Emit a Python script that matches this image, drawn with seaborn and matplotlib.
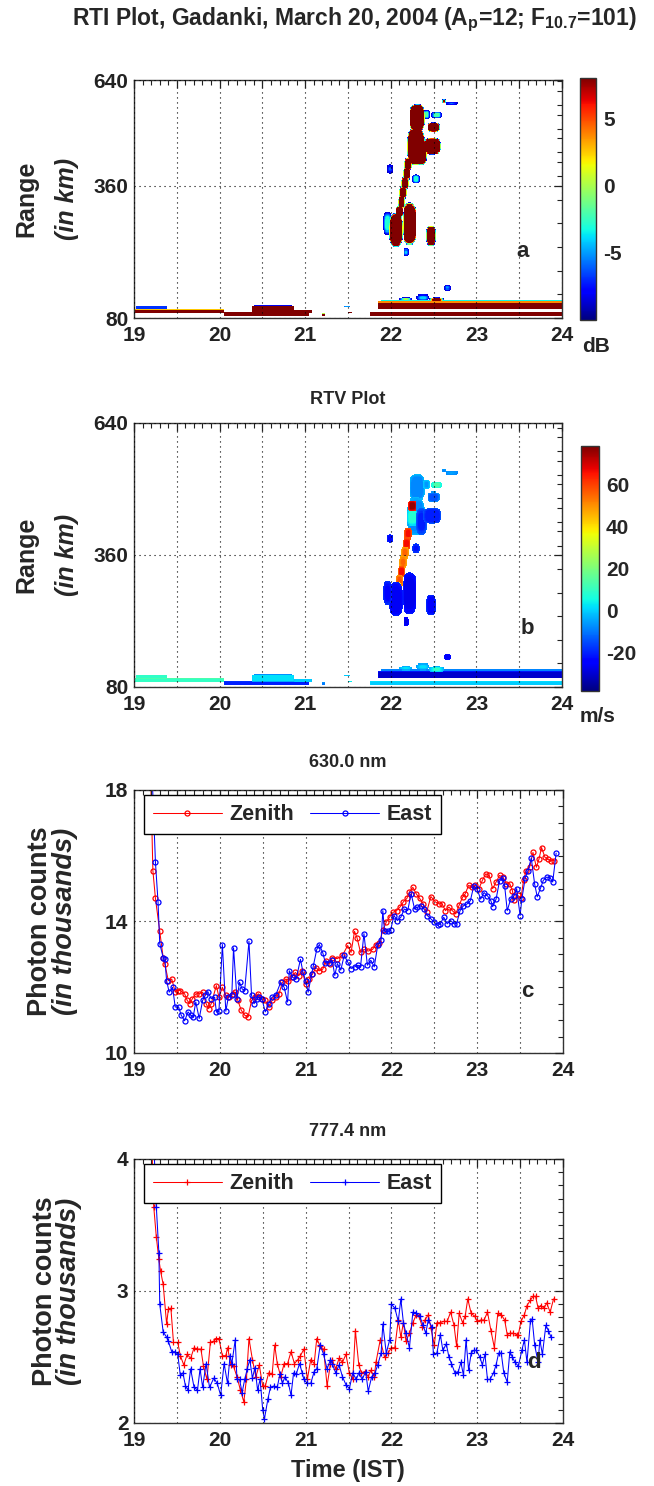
import numpy as np
import matplotlib
matplotlib.use("Agg")
import matplotlib.pyplot as plt
import seaborn as sns
from matplotlib.ticker import FixedLocator, MultipleLocator, FuncFormatter

sns.set_theme(style="white")
plt.rcParams["font.family"] = ["Liberation Sans", "DejaVu Sans"]
plt.rcParams["font.weight"] = "bold"
plt.rcParams["mathtext.fontset"] = "custom"
plt.rcParams["mathtext.bf"] = "Liberation Sans:bold"
plt.rcParams["mathtext.rm"] = "Liberation Sans:bold"
plt.rcParams["mathtext.default"] = "bf"
plt.rcParams["axes.unicode_minus"] = False

# ---------------------------------------------------------------- radar echoes
# each echo: (t_start, t_end, range_start, range_end, peak SNR dB,
#             core velocity m/s, edge velocity m/s, shape)
plume_echoes = [
    # upper cluster
    (22.22, 22.40, 474, 532, 40, -8, -2, "blob"),
    (22.19, 22.40, 402, 482, 40, -8, -2, "blob"),
    (22.19, 22.31, 422, 460, 40, 8, 0, "blob"),
    (22.30, 22.42, 402, 460, 40, -20, -12, "blob"),
    (22.20, 22.30, 452, 476, 40, 76, 62, "blob"),
    (22.38, 22.59, 426, 460, 38, -20, -14, "blob"),
    (22.43, 22.57, 472, 494, 30, -14, -6, "blob"),
    (22.38, 22.46, 500, 520, -2, -6, 0, "blob"),
    (22.47, 22.60, 502, 516, -2, 14, 4, "blob"),
    # tilted stalk
    (22.160, 22.250, 392, 418, 40, 66, 56, "blob"),
    (22.140, 22.230, 372, 398, 40, 66, 56, "blob"),
    (22.120, 22.210, 352, 378, 40, 55, 46, "blob"),
    (22.100, 22.190, 332, 358, 40, 55, 46, "blob"),
    (22.080, 22.170, 312, 338, 40, 66, 54, "blob"),
    (22.055, 22.145, 292, 318, 40, 58, 48, "blob"),
    (22.035, 22.125, 277, 303, 40, 42, 34, "blob"),
    (22.025, 22.105, 264, 286, 30, 25, 10, "blob"),
    # bottom-side echoes
    (21.98, 22.14, 230, 302, 40, -26, -20, "blob"),
    (21.91, 22.01, 255, 305, -3, -24, -18, "blob"),
    (22.14, 22.30, 234, 324, 40, -27, -20, "blob"),
    (22.41, 22.53, 232, 276, 32, -25, -18, "blob"),
    (22.15, 22.21, 210, 228, -4, -28, -24, "blob"),
    (21.96, 22.02, 386, 404, -6, -25, -20, "blob"),
    (22.25, 22.34, 364, 384, -3, -22, -16, "blob"),
    (22.60, 22.64, 534, 542, 20, -10, -6, "blob"),
    (22.64, 22.78, 530, 538, -5, -4, -8, "blob"),
]

layer_echoes = [
    (19.00, 20.05, 90, 99, 40, 10, 14, "box"),
    (19.02, 19.38, 101, 104, 0, 14, 8, "box"),
    (20.05, 21.05, 85, 92, 40, -20, -14, "box"),
    (20.38, 20.87, 91, 106, 45, 2, -6, "box"),
    (20.40, 20.85, 106, 108, -6, -4, -8, "box"),
    (20.87, 21.08, 90, 98, 25, 0, -6, "box"),
    (21.20, 21.23, 85, 89, 30, -10, -6, "box"),
    (21.45, 21.52, 102, 106, -5, 0, -4, "box"),
    (21.50, 21.55, 89, 93, 30, 4, 0, "box"),
    (21.85, 24.00, 99, 114, 45, -30, -18, "box"),
    (21.88, 24.00, 114, 117, -1, -12, 0, "box"),
    (22.10, 22.25, 116, 124, 5, 6, -4, "blob"),
    (22.30, 22.45, 116, 130, -4, 2, -6, "blob"),
    (22.45, 22.62, 112, 124, 20, 10, -4, "blob"),
    (21.76, 24.00, 84, 92, 30, 0, 6, "box"),
    (22.62, 22.70, 138, 150, -5, -26, -22, "blob"),
]

# ---------------------------------------------------------------- photometer data
t630_zen = [19.19, 19.22, 19.25, 19.30, 19.34, 19.36, 19.40, 19.44, 19.48, 19.51,
            19.54, 19.59, 19.62, 19.65, 19.68, 19.72, 19.76, 19.80, 19.84, 19.87,
            19.90, 19.96, 19.99, 20.03, 20.07, 20.11, 20.15, 20.18, 20.21, 20.25,
            20.29, 20.33, 20.37, 20.41, 20.45, 20.49, 20.53, 20.57, 20.61, 20.65,
            20.69, 20.73, 20.77, 20.80, 20.84, 20.88, 20.92, 20.96, 21.00, 21.04,
            21.08, 21.12, 21.16, 21.20, 21.24, 21.28, 21.31, 21.37, 21.43, 21.49,
            21.53, 21.57, 21.60, 21.64, 21.68, 21.73, 21.78, 21.82, 21.86, 21.90,
            21.94, 21.98, 22.02, 22.06, 22.10, 22.14, 22.18, 22.21, 22.25, 22.29,
            22.33, 22.37, 22.41, 22.46, 22.51, 22.55, 22.59, 22.63, 22.67, 22.71,
            22.75, 22.79, 22.83, 22.86, 22.90, 22.94, 22.98, 23.02, 23.06, 23.10,
            23.14, 23.18, 23.22, 23.26, 23.30, 23.34, 23.38, 23.41, 23.43, 23.47,
            23.51, 23.54, 23.57, 23.61, 23.65, 23.69, 23.72, 23.75, 23.79, 23.82,
            23.86, 23.90]
v630_zen = [18.9, 15.55, 14.7, 13.7, 12.9, 12.7, 12.2, 12.25, 11.86, 11.9,
            11.9, 11.8, 11.6, 11.5, 11.65, 11.8, 11.8, 11.85, 11.5, 11.35,
            11.5, 12.05, 11.7, 12.0, 11.75, 11.7, 11.8, 11.85, 11.6, 11.3,
            11.15, 11.1, 11.6, 11.7, 11.8, 11.65, 11.6, 11.4, 11.6, 11.7,
            11.8, 12.15, 12.25, 12.2, 12.3, 12.45, 12.35, 12.5, 12.1, 12.25,
            12.4, 12.6, 12.5, 12.55, 12.8, 12.7, 12.9, 12.87, 12.97, 13.27,
            13.06, 13.7, 13.5, 13.06, 13.15, 13.1, 13.15, 13.3, 13.35, 13.73,
            13.98, 14.14, 14.28, 14.33, 14.44, 14.6, 14.7, 14.9, 15.04, 14.84,
            14.7, 14.54, 14.28, 14.76, 14.6, 14.54, 14.54, 14.33, 14.44, 14.33,
            14.23, 14.5, 14.74, 14.84, 15.1, 15.04, 15.1, 15.0, 15.25, 15.45,
            15.4, 15.0, 15.2, 15.4, 15.35, 15.15, 15.15, 14.94, 14.64, 14.8,
            14.7, 15.25, 15.55, 15.65, 16.1, 15.65, 15.9, 16.25, 15.95, 15.9,
            15.85, 15.85]

t630_east = [19.20, 19.25, 19.28, 19.30, 19.34, 19.36, 19.38, 19.41, 19.45, 19.48,
             19.52, 19.55, 19.59, 19.63, 19.66, 19.69, 19.72, 19.76, 19.80, 19.83,
             19.86, 19.90, 19.94, 19.96, 19.99, 20.03, 20.07, 20.10, 20.14, 20.16,
             20.20, 20.23, 20.26, 20.29, 20.34, 20.37, 20.40, 20.43, 20.46, 20.49,
             20.53, 20.57, 20.61, 20.65, 20.71, 20.75, 20.79, 20.81, 20.85, 20.89,
             20.94, 20.97, 21.00, 21.03, 21.07, 21.09, 21.13, 21.16, 21.20, 21.23,
             21.27, 21.31, 21.34, 21.37, 21.41, 21.45, 21.49, 21.53, 21.57, 21.61,
             21.64, 21.68, 21.72, 21.76, 21.80, 21.84, 21.88, 21.90, 21.92, 21.96,
             21.99, 22.03, 22.07, 22.11, 22.15, 22.19, 22.23, 22.27, 22.30, 22.34,
             22.38, 22.42, 22.46, 22.50, 22.54, 22.57, 22.61, 22.65, 22.69, 22.73,
             22.76, 22.80, 22.84, 22.88, 22.92, 22.96, 23.00, 23.04, 23.08, 23.12,
             23.16, 23.18, 23.22, 23.26, 23.30, 23.32, 23.35, 23.39, 23.43, 23.46,
             23.50, 23.52, 23.56, 23.59, 23.63, 23.67, 23.70, 23.74, 23.77, 23.81,
             23.85, 23.88, 23.92]
v630_east = [19.2, 15.8, 14.6, 13.33, 12.9, 12.85, 12.2, 11.85, 12.0, 11.4,
             11.4, 11.15, 10.98, 11.25, 11.15, 11.1, 11.55, 11.05, 11.6, 11.75,
             11.87, 11.65, 11.7, 11.25, 11.27, 13.3, 11.27, 11.7, 11.75, 13.2,
             11.65, 12.15, 11.95, 11.9, 13.4, 11.75, 11.5, 11.65, 11.7, 11.65,
             11.25, 11.5, 11.7, 11.75, 12.15, 12.0, 11.55, 12.5, 12.3, 12.25,
             12.85, 12.45, 12.2, 11.85, 12.4, 12.65, 13.15, 13.3, 13.05, 12.75,
             12.75, 12.82, 12.36, 12.72, 12.52, 12.97, 12.77, 12.57, 12.62, 12.67,
             12.62, 13.63, 12.67, 12.82, 12.62, 13.27, 13.43, 14.33, 13.7, 13.7,
             13.73, 14.18, 14.03, 14.13, 14.38, 14.33, 14.85, 14.38, 14.43, 14.48,
             14.38, 14.18, 14.08, 13.98, 13.88, 13.93, 14.13, 13.93, 14.03, 13.93,
             13.93, 14.33, 14.48, 14.53, 14.63, 15.08, 14.98, 14.68, 14.88, 14.78,
             14.63, 14.45, 14.68, 15.23, 15.33, 15.08, 14.33, 14.68, 14.78, 15.0,
             14.18, 14.68, 15.33, 15.53, 15.93, 15.13, 14.75, 15.03, 15.25, 15.35,
             15.33, 15.2, 16.08]

t777_zen = [19.20, 19.23, 19.26, 19.29, 19.31, 19.34, 19.38, 19.40, 19.43, 19.46,
            19.51, 19.54, 19.58, 19.62, 19.66, 19.70, 19.74, 19.78, 19.81, 19.85,
            19.89, 19.93, 19.95, 19.99, 20.03, 20.07, 20.09, 20.13, 20.16, 20.20,
            20.24, 20.28, 20.31, 20.34, 20.38, 20.42, 20.46, 20.50, 20.53, 20.57,
            20.61, 20.64, 20.67, 20.71, 20.75, 20.79, 20.83, 20.87, 20.91, 20.94,
            20.98, 21.02, 21.06, 21.10, 21.13, 21.17, 21.21, 21.25, 21.29, 21.31,
            21.35, 21.39, 21.43, 21.47, 21.51, 21.55, 21.58, 21.62, 21.65, 21.69,
            21.73, 21.76, 21.80, 21.82, 21.87, 21.92, 21.96, 22.00, 22.04, 22.08,
            22.11, 22.14, 22.17, 22.21, 22.25, 22.29, 22.32, 22.36, 22.39, 22.43,
            22.46, 22.50, 22.53, 22.57, 22.61, 22.65, 22.69, 22.73, 22.76, 22.79,
            22.83, 22.86, 22.89, 22.93, 22.97, 23.00, 23.04, 23.08, 23.12, 23.16,
            23.20, 23.24, 23.28, 23.32, 23.35, 23.38, 23.42, 23.46, 23.48, 23.51,
            23.55, 23.58, 23.62, 23.65, 23.68, 23.71, 23.74, 23.78, 23.81, 23.85,
            23.89]
v777_zen = [4.3, 3.64, 3.41, 3.24, 3.15, 3.05, 2.75, 2.86, 2.87, 2.61,
            2.61, 2.51, 2.44, 2.52, 2.49, 2.57, 2.56, 2.56, 2.43, 2.33,
            2.61, 2.62, 2.64, 2.64, 2.51, 2.51, 2.57, 2.44, 2.43, 2.35,
            2.25, 2.16, 2.33, 2.64, 2.48, 2.35, 2.44, 2.28, 2.28, 2.38,
            2.37, 2.59, 2.45, 2.35, 2.45, 2.45, 2.54, 2.45, 2.48, 2.51,
            2.56, 2.33, 2.48, 2.45, 2.64, 2.58, 2.56, 2.28, 2.45, 2.48,
            2.41, 2.49, 2.46, 2.52, 2.38, 2.33, 2.70, 2.44, 2.38, 2.39,
            2.35, 2.40, 2.35, 2.46, 2.63, 2.50, 2.53, 2.57, 2.57, 2.78,
            2.65, 2.76, 2.62, 2.68, 2.76, 2.82, 2.81, 2.73, 2.78, 2.82,
            2.72, 2.59, 2.76, 2.76, 2.77, 2.77, 2.84, 2.74, 2.58, 2.83,
            2.76, 2.81, 2.94, 2.83, 2.81, 2.77, 2.78, 2.78, 2.84, 2.70,
            2.57, 2.83, 2.82, 2.78, 2.67, 2.68, 2.68, 2.67, 2.67, 2.77,
            2.82, 2.89, 2.93, 2.96, 2.96, 2.87, 2.89, 2.87, 2.91, 2.84,
            2.94]

t777_east = [19.22, 19.26, 19.29, 19.30, 19.34, 19.38, 19.40, 19.44, 19.48, 19.51,
             19.54, 19.57, 19.60, 19.63, 19.66, 19.70, 19.74, 19.77, 19.80, 19.84,
             19.88, 19.93, 19.97, 20.01, 20.05, 20.09, 20.12, 20.14, 20.18, 20.20,
             20.23, 20.26, 20.29, 20.32, 20.35, 20.38, 20.41, 20.44, 20.47, 20.50,
             20.52, 20.56, 20.59, 20.63, 20.67, 20.70, 20.73, 20.76, 20.80, 20.83,
             20.86, 20.89, 20.93, 20.96, 20.98, 21.02, 21.06, 21.10, 21.13, 21.17,
             21.21, 21.25, 21.29, 21.31, 21.35, 21.39, 21.43, 21.47, 21.51, 21.55,
             21.59, 21.62, 21.66, 21.70, 21.73, 21.77, 21.81, 21.84, 21.88, 21.90,
             21.94, 21.98, 22.00, 22.04, 22.08, 22.11, 22.14, 22.17, 22.21, 22.25,
             22.29, 22.33, 22.37, 22.40, 22.43, 22.47, 22.49, 22.53, 22.57, 22.60,
             22.64, 22.67, 22.70, 22.74, 22.78, 22.81, 22.84, 22.87, 22.90, 22.93,
             22.96, 22.99, 23.03, 23.06, 23.09, 23.12, 23.15, 23.19, 23.22, 23.25,
             23.28, 23.31, 23.35, 23.38, 23.41, 23.44, 23.48, 23.52, 23.55, 23.58,
             23.62, 23.64, 23.67, 23.71, 23.73, 23.76, 23.80, 23.83, 23.86]
v777_east = [4.3, 3.64, 3.29, 2.90, 2.69, 2.65, 2.62, 2.54, 2.54, 2.52,
             2.36, 2.38, 2.28, 2.25, 2.41, 2.27, 2.25, 2.41, 2.27, 2.45,
             2.27, 2.34, 2.30, 2.21, 2.45, 2.30, 2.51, 2.45, 2.63, 2.33,
             2.33, 2.23, 2.33, 2.41, 2.48, 2.34, 2.42, 2.25, 2.33, 2.10,
             2.03, 2.18, 2.27, 2.28, 2.27, 2.37, 2.30, 2.35, 2.30, 2.21,
             2.38, 2.37, 2.45, 2.38, 2.33, 2.30, 2.30, 2.39, 2.41, 2.59,
             2.52, 2.41, 2.48, 2.45, 2.38, 2.44, 2.35, 2.29, 2.26, 2.38,
             2.33, 2.38, 2.33, 2.39, 2.24, 2.35, 2.38, 2.44, 2.53, 2.75,
             2.53, 2.63, 2.90, 2.87, 2.77, 2.94, 2.76, 2.68, 2.57, 2.84,
             2.83, 2.81, 2.74, 2.68, 2.78, 2.73, 2.52, 2.53, 2.67, 2.55,
             2.60, 2.50, 2.45, 2.38, 2.39, 2.46, 2.36, 2.63, 2.40, 2.53,
             2.55, 2.55, 2.50, 2.44, 2.52, 2.33, 2.33, 2.38, 2.44, 2.53,
             2.53, 2.38, 2.31, 2.54, 2.50, 2.46, 2.43, 2.55, 2.63, 2.46,
             2.77, 2.79, 2.59, 2.46, 2.63, 2.52, 2.74, 2.70, 2.65]

hour_ticks = [19, 20, 21, 22, 23, 24]
snr_ticks = [-5, 0, 5]
vel_ticks = [-20, 0, 20, 40, 60]

# ---------------------------------------------------------------- gridding
t_edges = np.arange(19.0, 24.0001, 0.01)
r_edges = np.arange(80.0, 640.001, 2.5)
T, R = np.meshgrid(0.5 * (t_edges[:-1] + t_edges[1:]),
                   0.5 * (r_edges[:-1] + r_edges[1:]))
snr_map = np.full(T.shape, np.nan)
vel_map = np.full(T.shape, np.nan)
SCALE_T, SCALE_R, SNR_EDGE = 85.4, 0.4714, -9.0
RIM = {"box": 0.5, "blob": 2.0}

for (t0, t1, r0, r1, sp, vc, ve, kind) in plume_echoes + layer_echoes:
    tm, rm, ht, hr = (t0 + t1) / 2, (r0 + r1) / 2, (t1 - t0) / 2, (r1 - r0) / 2
    dt, dr = np.abs(T - tm), np.abs(R - rm)
    if kind == "box":
        e = np.minimum((ht - dt) * SCALE_T, (hr - dr) * SCALE_R)
    else:
        rho = ((dt / ht) ** 3 + (dr / hr) ** 3) ** (1 / 3)
        e = (1 - rho) * min(ht * SCALE_T, hr * SCALE_R)
    inside = e > 0
    f = np.clip(e / RIM[kind], 0, 1)
    s = SNR_EDGE + (sp - SNR_EDGE) * f
    v = ve + (vc - ve) * f
    snr_map[inside] = np.fmax(snr_map[inside], s[inside])
    vel_map[inside] = v[inside]

# ---------------------------------------------------------------- figure
W, H = 654, 1486
fig = plt.figure(figsize=(W / 100, H / 100), dpi=100)


def box(l, t, r, b):
    return [l / W, 1 - b / H, (r - l) / W, (b - t) / H]


ax_a = fig.add_axes(box(134, 80, 562, 318))
cax_a = fig.add_axes(box(580, 78, 596, 320))
ax_b = fig.add_axes(box(134, 423, 562, 687))
cax_b = fig.add_axes(box(581, 446, 599, 691))
ax_c = fig.add_axes(box(134, 790, 563, 1053))
ax_d = fig.add_axes(box(134, 1159, 563, 1423))

TICK_FS = 15
hour_fmt = FuncFormatter(lambda x, p: f"{int(round(x))}" if abs(x - round(x)) < 1e-6 else "")


def style_axes(ax):
    ax.set_xlim(hour_ticks[0], hour_ticks[-1])
    ax.xaxis.set_major_locator(MultipleLocator(0.5))
    ax.xaxis.set_minor_locator(MultipleLocator(0.1))
    ax.xaxis.set_major_formatter(hour_fmt)
    ax.tick_params(which="both", direction="in", top=True, right=True,
                   labelsize=TICK_FS, colors="#222222")
    ax.tick_params(axis="x", pad=6)
    ax.tick_params(axis="y", pad=4)
    ax.tick_params(which="major", length=6, width=0.9)
    ax.tick_params(which="minor", length=3.5, width=0.8)
    for sp in ax.spines.values():
        sp.set_color("#333333")
        sp.set_linewidth(1.0)
    ax.grid(True, which="major", linestyle=(0, (1, 3.5)), color="black", lw=0.8)
    ax.set_axisbelow(False)
    ax.set_xlabel("")
    ax.set_ylabel("")


def bold_ticklabels(ax):
    for lab in ax.get_xticklabels() + ax.get_yticklabels():
        lab.set_fontweight("bold")


def two_line_label(ax, top, bottom, x1, x2, fs=18):
    ax.text(x1, 0.5, top, rotation=90, transform=ax.transAxes, ha="center",
            va="center", fontsize=fs, fontweight="bold")
    ax.text(x2, 0.5, bottom, rotation=90, transform=ax.transAxes, ha="center",
            va="center", fontsize=fs, fontweight="bold", style="italic")


def style_cbar(cb, cax):
    cax.tick_params(direction="in", length=6, width=0.9, left=True, right=True,
                    labelsize=TICK_FS, pad=5)
    for lab in cax.get_yticklabels():
        lab.set_fontweight("bold")
    cb.outline.set_linewidth(1.0)
    cb.outline.set_edgecolor("#333333")


# panel a: signal-to-noise ratio
mesh_a = ax_a.pcolormesh(t_edges, r_edges, np.ma.masked_invalid(snr_map), cmap="jet",
                         vmin=-10, vmax=8, shading="flat", rasterized=True)
style_axes(ax_a)
ax_a.set_ylim(80, 583)
ax_a.yaxis.set_major_locator(FixedLocator([80, 360, 583]))
ax_a.set_yticklabels(["80", "360", "640"])
ax_a.yaxis.set_minor_locator(FixedLocator(list(range(130, 583, 50)) + list(range(410, 583, 50))))
bold_ticklabels(ax_a)
two_line_label(ax_a, "Range", "(in km)", -0.252, -0.157)
ax_a.text(0.907, 0.28, "a", transform=ax_a.transAxes, fontsize=16, fontweight="bold",
          ha="center", va="center")
cb_a = fig.colorbar(mesh_a, cax=cax_a, ticks=snr_ticks)
style_cbar(cb_a, cax_a)
fig.text(596 / W, 1 - 347 / H, "dB", fontsize=15, fontweight="bold", ha="center", va="center")

# panel b: Doppler velocity
mesh_b = ax_b.pcolormesh(t_edges, r_edges, np.ma.masked_invalid(vel_map), cmap="jet",
                         vmin=-38, vmax=78, shading="flat", rasterized=True)
style_axes(ax_b)
ax_b.set_ylim(80, 640)
ax_b.yaxis.set_major_locator(FixedLocator([80, 360, 640]))
ax_b.set_yticklabels(["80", "360", "640"])
ax_b.yaxis.set_minor_locator(FixedLocator(list(range(130, 640, 50)) + list(range(410, 640, 50))))
bold_ticklabels(ax_b)
two_line_label(ax_b, "Range", "(in km)", -0.252, -0.157)
ax_b.text(0.92, 0.223, "b", transform=ax_b.transAxes, fontsize=16, fontweight="bold",
          ha="center", va="center")
cb_b = fig.colorbar(mesh_b, cax=cax_b, ticks=vel_ticks)
style_cbar(cb_b, cax_b)
fig.text(598 / W, 1 - 716 / H, "m/s", fontsize=15, fontweight="bold", ha="center", va="center")

# panels c, d: photometer counts
line_kw = dict(lw=0.75, estimator=None, sort=False)
sns.lineplot(x=t630_zen, y=v630_zen, ax=ax_c, color="red", marker="o", ms=3.6,
             mfc="none", mec="red", mew=0.9, label="Zenith", **line_kw)
sns.lineplot(x=t630_east, y=v630_east, ax=ax_c, color="blue", marker="o", ms=3.6,
             mfc="none", mec="blue", mew=0.9, label="East", **line_kw)
style_axes(ax_c)
ax_c.set_ylim(10, 18)
ax_c.yaxis.set_major_locator(FixedLocator([10, 14, 18]))
ax_c.yaxis.set_minor_locator(MultipleLocator(0.5))
two_line_label(ax_c, "Photon counts", "(in thousands)", -0.219, -0.161, fs=19.5)
ax_c.text(0.916, 0.232, "c", transform=ax_c.transAxes, fontsize=16, fontweight="bold",
          ha="center", va="center")

sns.lineplot(x=t777_zen, y=v777_zen, ax=ax_d, color="red", marker="+", ms=5,
             mec="red", mew=0.9, label="Zenith", **line_kw)
sns.lineplot(x=t777_east, y=v777_east, ax=ax_d, color="blue", marker="+", ms=5,
             mec="blue", mew=0.9, label="East", **line_kw)
style_axes(ax_d)
ax_d.set_ylim(2, 4)
ax_d.yaxis.set_major_locator(FixedLocator([2, 3, 4]))
ax_d.yaxis.set_minor_locator(MultipleLocator(0.1))
two_line_label(ax_d, "Photon counts", "(in thousands)", -0.207, -0.151, fs=19.5)
ax_d.text(0.932, 0.231, "d", transform=ax_d.transAxes, fontsize=16, fontweight="bold",
          ha="center", va="center")

for ax in (ax_c, ax_d):
    handles, labels = ax.get_legend_handles_labels()
    leg = ax.legend(handles, labels, ncol=2, loc="upper left",
                    bbox_to_anchor=(0.023, 0.981), borderaxespad=0,
                    prop={"weight": "bold", "size": 15.5}, frameon=True, fancybox=False,
                    framealpha=1, edgecolor="black", handlelength=3.2,
                    handletextpad=0.35, columnspacing=0.75, borderpad=0.42)
    leg.get_frame().set_linewidth(1.0)
    bold_ticklabels(ax)

# titles
fig.text(354 / W, 1 - 20 / H,
         r"RTI Plot, Gadanki, March 20, 2004 (A$_{p}$=12; F$_{10.7}$=101)",
         fontsize=16.5, fontweight="bold", ha="center", va="center")
fig.text(348 / W, 1 - 400 / H, "RTV Plot", fontsize=13, fontweight="bold",
         ha="center", va="center")
fig.text(348 / W, 1 - 762 / H, "630.0 nm", fontsize=13, fontweight="bold",
         ha="center", va="center")
fig.text(348 / W, 1 - 1131 / H, "777.4 nm", fontsize=13, fontweight="bold",
         ha="center", va="center")
fig.text(348 / W, 1 - 1470 / H, "Time (IST)", fontsize=17, fontweight="bold",
         ha="center", va="center")

fig.savefig("out.png", dpi=100, facecolor="white")
